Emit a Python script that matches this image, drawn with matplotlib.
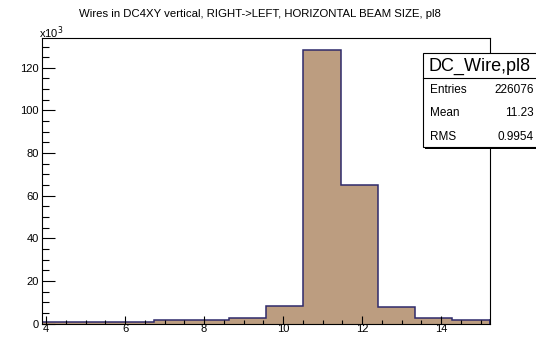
import matplotlib
matplotlib.use("Agg")
import matplotlib.pyplot as plt
from matplotlib.patches import Rectangle
from matplotlib.ticker import MultipleLocator

# wire histogram, counts in thousands
bin_edges = [3.89, 4.84, 5.78, 6.73, 7.67, 8.62, 9.56, 10.51, 11.46, 12.40, 13.35, 14.29, 15.24]
counts_k = [0.8, 0.8, 0.8, 1.6, 1.6, 2.7, 8.4, 128.3, 65.0, 7.6, 2.4, 1.6]

title = "Wires in DC4XY vertical, RIGHT->LEFT, HORIZONTAL BEAM SIZE, pl8"
hist_name = "DC_Wire,pl8"
stat_names = ["Entries", "Mean", "RMS"]
stat_values = ["226076", "11.23", "0.9954"]

W, H = 536, 337
plt.rcParams["font.family"] = ["Liberation Sans", "DejaVu Sans"]

fig = plt.figure(figsize=(W / 100, H / 100), dpi=100)


def fx(px):
    return px / W


def fy(py):
    # pixel rows counted from the top
    return 1 - py / H


ax = fig.add_axes([fx(41.7), fy(323.5), fx(490 - 41.7), (323.5 - 38) / H])

ax.stairs(counts_k, bin_edges, fill=True, facecolor="#bc9d80", edgecolor="none")
ax.stairs(counts_k, bin_edges, fill=False, color="#2e2a6b", linewidth=1.1, baseline=0)
ax.plot([bin_edges[0], bin_edges[0]], [0, counts_k[0]], color="#2e2a6b", lw=1.1)
ax.plot([bin_edges[-1], bin_edges[-1]], [0, counts_k[-1]], color="#2e2a6b", lw=1.1)

ax.set_xlim(bin_edges[0], bin_edges[-1])
ax.set_ylim(0, 134)

ax.xaxis.set_major_locator(MultipleLocator(2))
ax.xaxis.set_minor_locator(MultipleLocator(0.5))
ax.yaxis.set_major_locator(MultipleLocator(20))
ax.yaxis.set_minor_locator(MultipleLocator(5))

ax.tick_params(axis="both", which="both", direction="in", top=False, right=False,
               width=0.8, labelsize=8, colors="black")
ax.tick_params(axis="y", which="major", length=9.5, pad=2)
ax.tick_params(axis="y", which="minor", length=5)
ax.tick_params(axis="x", which="major", length=6, pad=0)
ax.tick_params(axis="x", which="minor", length=3)
for s in ax.spines.values():
    s.set_linewidth(0.8)

fig.text(fx(260), fy(14), title, ha="center", va="center", fontsize=8.2)
fig.text(fx(39), fy(33), r"x10$^{3}$", ha="left", va="center", fontsize=8)

# stats box
box_l, box_t, box_b = 422.7, 53.3, 147
fig.add_artist(Rectangle((fx(box_l + 2), fy(box_b + 2)), fx(W - box_l), (box_b - box_t) / H,
                         transform=fig.transFigure, facecolor="black", edgecolor="none"))
fig.add_artist(Rectangle((fx(box_l), fy(box_b)), fx(W - box_l + 5), (box_b - box_t) / H,
                         transform=fig.transFigure, facecolor="white", edgecolor="black",
                         linewidth=0.8))
fig.add_artist(plt.Line2D([fx(box_l), 1], [fy(78.3), fy(78.3)], transform=fig.transFigure,
                          color="black", linewidth=0.8))
fig.text(fx(428), fy(66), hist_name, ha="left", va="center", fontsize=13)
for i, (name, val) in enumerate(zip(stat_names, stat_values)):
    y = 90 + i * 23.5
    fig.text(fx(430), fy(y), name, ha="left", va="center", fontsize=8.5)
    fig.text(fx(534), fy(y), val, ha="right", va="center", fontsize=8.5)

fig.savefig("out.png", dpi=100)
